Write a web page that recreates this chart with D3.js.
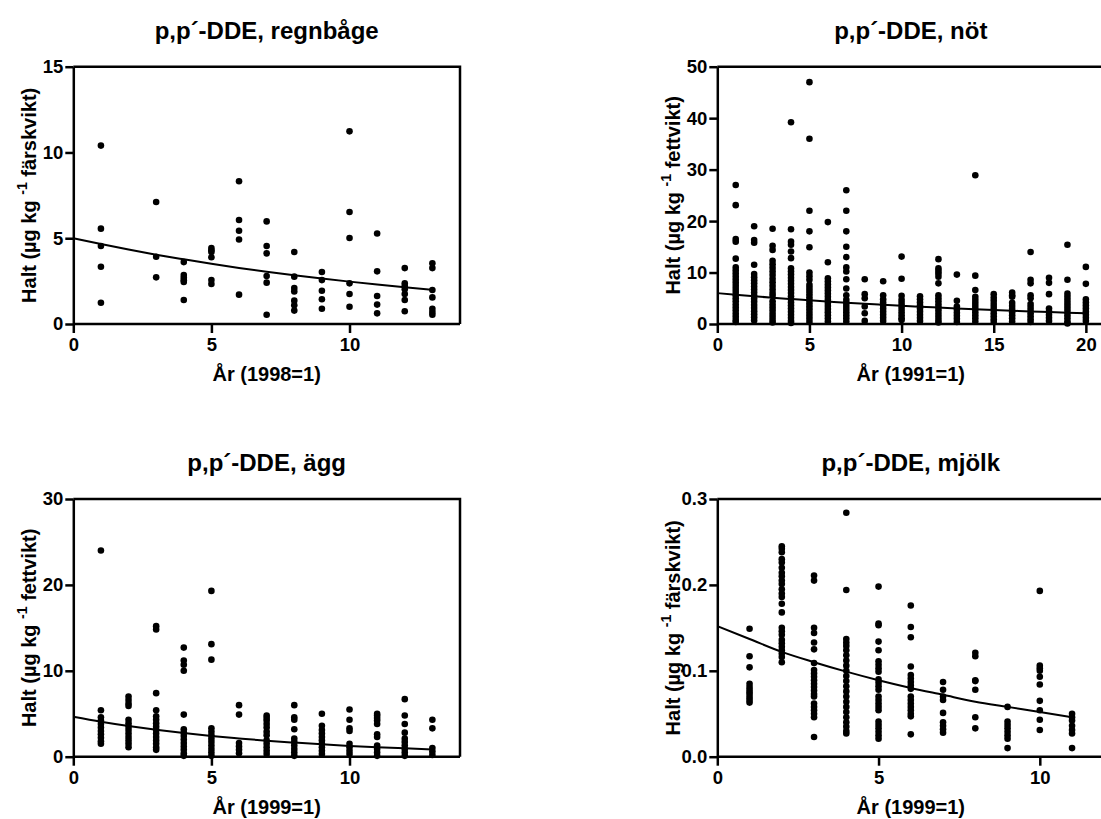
<!DOCTYPE html>
<html>
<head>
<meta charset="utf-8">
<script src="https://cdn.jsdelivr.net/npm/d3@7/dist/d3.min.js"></script>
<style>
  html, body { margin: 0; padding: 0; background: #fff; overflow: hidden; }
  svg { display: block; font-family: "Liberation Sans", Arial, sans-serif; font-weight: bold; }
</style>
</head>
<body>
<svg id="chart" width="1101" height="819"></svg>
<script>
// ---- p,p´-DDE, regnbåge (färskvikt) ----
const regnbageYears = [1, 3, 4, 5, 6, 7, 8, 9, 10, 11, 12, 13];
const regnbageValues = [
  [10.4, 5.56, 4.55, 3.34, 1.24],
  [7.11, 3.92, 2.72],
  [3.61, 2.85, 2.7, 2.55, 2.45, 1.4],
  [4.43, 4.3, 4.2, 3.89, 2.56, 2.33],
  [8.32, 6.06, 5.44, 4.93, 1.71],
  [5.98, 4.55, 4.12, 2.8, 2.41, 0.54],
  [4.2, 2.76, 2.1, 1.9, 1.36, 1.09, 0.78],
  [3.03, 2.56, 1.94, 1.44, 0.89],
  [11.23, 6.53, 5.01, 2.37, 1.75, 1.01],
  [5.28, 3.07, 1.63, 1.13, 0.62],
  [3.26, 2.37, 2.21, 2.02, 1.75, 1.4, 0.74],
  [3.54, 3.26, 1.98, 1.55, 0.89, 0.7, 0.54]
];
const regnbageFit = [5.0, 4.66, 4.34, 4.04, 3.77, 3.51, 3.27, 3.05, 2.84, 2.65, 2.47, 2.3, 2.14, 2.0];

// ---- p,p´-DDE, nöt (fettvikt) ----
const notYears = [1, 2, 3, 4, 5, 6, 7, 8, 9, 10, 11, 12, 13, 14, 15, 16, 17, 18, 19, 20];
const notValues = [
  [27.0, 23.1, 16.5, 16.0, 12.7, 11.0, 10.4, 9.8, 9.2, 8.6, 8.0, 7.4, 6.8, 6.2, 5.6, 5.0, 4.4, 3.8, 3.2, 2.6, 2.0, 1.4, 0.8, 0.4],
  [19.0, 16.3, 15.8, 11.5, 9.7, 9.1, 8.5, 7.9, 7.3, 6.7, 6.1, 5.5, 4.9, 4.3, 3.7, 3.1, 2.5, 1.9, 1.3, 0.7],
  [18.5, 15.2, 14.4, 12.3, 11.6, 10.9, 10.2, 9.5, 8.8, 8.1, 7.4, 6.7, 6.0, 5.5, 4.4, 3.8, 3.2, 2.6, 2.0, 1.4, 0.8, 0.3],
  [39.2, 18.4, 16.0, 15.4, 14.1, 12.8, 10.8, 10.2, 9.6, 9.0, 8.4, 7.8, 7.2, 6.6, 6.0, 5.4, 4.8, 4.2, 3.6, 3.0, 2.4, 1.8, 1.2, 0.6, 0.2],
  [47.0, 36.0, 22.0, 18.0, 14.9, 10.0, 9.3, 8.6, 7.6, 7.0, 6.4, 5.8, 5.2, 4.6, 4.0, 3.4, 2.8, 2.2, 1.6, 1.0, 0.4],
  [19.8, 12.0, 8.9, 8.3, 7.7, 7.1, 6.5, 5.9, 5.3, 4.7, 4.1, 3.5, 2.9, 2.3, 1.7, 1.1, 0.5],
  [26.0, 22.0, 18.0, 15.0, 13.0, 11.0, 10.2, 8.7, 6.9, 5.6, 4.7, 4.1, 3.5, 2.9, 2.3, 1.7, 1.1, 0.5],
  [8.7, 5.8, 5.0, 3.4, 2.1, 0.6],
  [8.3, 5.6, 4.8, 4.2, 3.6, 3.0, 2.4, 1.8, 1.2, 0.6],
  [13.1, 8.8, 5.5, 4.7, 4.1, 3.5, 2.9, 2.3, 1.7, 1.1, 0.8],
  [5.4, 4.8, 4.2, 3.6, 3.0, 2.4, 1.8, 1.2, 0.6],
  [12.6, 10.8, 10.3, 9.8, 9.2, 7.9, 5.6, 5.0, 4.4, 3.8, 3.2, 2.6, 2.0, 1.4, 0.8, 0.3],
  [9.6, 4.5, 3.4, 2.8, 2.2, 1.6, 1.0, 0.4],
  [28.9, 9.4, 6.6, 5.3, 4.7, 4.1, 3.5, 2.9, 2.3, 1.7, 1.1, 0.5],
  [5.8, 5.1, 4.5, 3.9, 3.3, 2.7, 2.1, 1.5, 0.9, 0.4],
  [6.1, 5.6, 5.3, 4.1, 3.5, 2.9, 2.3, 1.7, 1.1, 0.5],
  [14.0, 8.6, 7.9, 5.6, 5.0, 3.9, 3.3, 2.7, 2.1, 1.5, 0.9, 0.4],
  [9.0, 8.0, 5.8, 3.0, 2.4, 1.8, 1.2, 0.6],
  [15.4, 8.6, 5.9, 5.3, 4.7, 4.1, 3.5, 2.9, 2.3, 1.7, 1.1, 0.5, 0.1],
  [11.1, 7.8, 4.8, 4.2, 3.6, 3.0, 2.4, 1.8, 1.2, 0.6]
];
const notFit = [6.0, 5.69, 5.39, 5.11, 4.85, 4.6, 4.37, 4.14, 3.93, 3.73, 3.54, 3.36, 3.19, 3.02, 2.87, 2.73, 2.59, 2.45, 2.33, 2.21, 2.1];

// ---- p,p´-DDE, ägg (fettvikt) ----
const aggYears = [1, 2, 3, 4, 5, 6, 7, 8, 9, 10, 11, 12, 13];
const aggValues = [
  [24.0, 5.4, 4.6, 4.2, 3.8, 3.4, 3.0, 2.6, 2.2, 1.8, 1.5],
  [7.0, 6.6, 6.2, 5.9, 4.3, 3.9, 3.5, 3.1, 2.7, 2.3, 1.9, 1.5, 1.1],
  [15.2, 14.8, 7.4, 5.4, 4.7, 4.3, 3.9, 3.5, 3.1, 2.7, 2.3, 1.9, 1.5, 1.1, 0.8],
  [12.7, 11.2, 10.7, 10.0, 4.9, 3.2, 2.8, 2.4, 2.0, 1.6, 1.2, 0.8, 0.4, 0.1],
  [19.3, 13.1, 11.3, 3.3, 2.9, 2.5, 2.1, 1.7, 1.3, 0.9, 0.5, 0.1],
  [6.0, 4.9, 1.6, 1.2, 0.8, 0.4],
  [4.8, 4.5, 4.2, 3.8, 3.4, 2.9, 2.5, 1.9, 1.5, 1.1, 0.7, 0.3],
  [6.0, 4.6, 4.3, 3.2, 2.1, 1.7, 1.3, 0.9, 0.5, 0.1],
  [5.0, 3.6, 3.1, 2.7, 2.3, 1.9, 1.5, 1.1, 0.7, 0.3],
  [5.5, 4.3, 3.3, 3.0, 1.5, 1.1, 0.7, 0.3],
  [5.0, 4.8, 4.5, 4.2, 3.8, 2.6, 2.3, 1.3, 0.9, 0.5, 0.1],
  [6.7, 4.8, 3.8, 2.8, 2.1, 1.7, 1.3, 0.9, 0.5, 0.1],
  [4.3, 3.3, 1.0, 0.6, 0.2]
];
const aggFit = [4.65, 4.08, 3.58, 3.14, 2.76, 2.42, 2.13, 1.86, 1.64, 1.44, 1.26, 1.11, 0.97, 0.85];

// ---- p,p´-DDE, mjölk (färskvikt) ----
const mjolkYears = [1, 2, 3, 4, 5, 6, 7, 8, 9, 10, 11];
const mjolkValues = [
  [0.149, 0.117, 0.104, 0.085, 0.081, 0.078, 0.075, 0.072, 0.069, 0.066, 0.063],
  [0.245, 0.242, 0.238, 0.230, 0.226, 0.220, 0.214, 0.210, 0.205, 0.201, 0.195, 0.190, 0.186, 0.178, 0.168, 0.150, 0.146, 0.142, 0.136, 0.132, 0.128, 0.124, 0.120, 0.116, 0.110],
  [0.211, 0.205, 0.150, 0.144, 0.133, 0.125, 0.109, 0.101, 0.097, 0.093, 0.089, 0.085, 0.081, 0.077, 0.073, 0.070, 0.062, 0.058, 0.054, 0.050, 0.046, 0.023],
  [0.284, 0.194, 0.137, 0.133, 0.129, 0.124, 0.118, 0.112, 0.106, 0.100, 0.094, 0.088, 0.082, 0.076, 0.070, 0.064, 0.058, 0.052, 0.046, 0.040, 0.035, 0.030, 0.027],
  [0.198, 0.155, 0.153, 0.134, 0.124, 0.111, 0.107, 0.103, 0.099, 0.090, 0.086, 0.082, 0.078, 0.070, 0.066, 0.062, 0.058, 0.054, 0.041, 0.037, 0.033, 0.029, 0.025, 0.021],
  [0.176, 0.151, 0.139, 0.105, 0.095, 0.091, 0.087, 0.083, 0.079, 0.070, 0.066, 0.062, 0.058, 0.054, 0.050, 0.047, 0.026],
  [0.087, 0.078, 0.070, 0.066, 0.051, 0.040, 0.036, 0.032, 0.028],
  [0.121, 0.117, 0.089, 0.088, 0.078, 0.046, 0.033],
  [0.058, 0.041, 0.037, 0.033, 0.029, 0.025, 0.021, 0.010],
  [0.193, 0.106, 0.103, 0.100, 0.093, 0.084, 0.065, 0.054, 0.043, 0.031],
  [0.050, 0.046, 0.042, 0.036, 0.031, 0.027, 0.010]
];
const mjolkFit = [0.152, 0.137, 0.122, 0.110, 0.099, 0.089, 0.080, 0.072, 0.064, 0.058, 0.052, 0.046];

// Tick labels
const xTicksShort = [0, 5, 10];
const xTicksLong = [0, 5, 10, 15, 20];
const yTicksRegnbage = [0, 5, 10, 15];
const yTicksNot = [0, 10, 20, 30, 40, 50];
const yTicksAgg = [0, 10, 20, 30];
const yTicksMjolk = [0, 0.1, 0.2, 0.3];

const panels = [
  { title: "p,p´-DDE, regnbåge", xLabel: "År (1998=1)", unit: "färskvikt",
    years: regnbageYears, values: regnbageValues, fit: regnbageFit,
    xMax: 14, yMax: 15, xTicks: xTicksShort, yTicks: yTicksRegnbage, yFmt: d3.format("d"),
    left: 73.3, right: 460, top: 66.7, bottom: 324 },
  { title: "p,p´-DDE, nöt", xLabel: "År (1991=1)", unit: "fettvikt",
    years: notYears, values: notValues, fit: notFit,
    xMax: 21, yMax: 50, xTicks: xTicksLong, yTicks: yTicksNot, yFmt: d3.format("d"),
    left: 717.3, right: 1104.3, top: 66.7, bottom: 324 },
  { title: "p,p´-DDE, ägg", xLabel: "År (1999=1)", unit: "fettvikt",
    years: aggYears, values: aggValues, fit: aggFit,
    xMax: 14, yMax: 30, xTicks: xTicksShort, yTicks: yTicksAgg, yFmt: d3.format("d"),
    left: 73.3, right: 460, top: 499, bottom: 756.7 },
  { title: "p,p´-DDE, mjölk", xLabel: "År (1999=1)", unit: "färskvikt",
    years: mjolkYears, values: mjolkValues, fit: mjolkFit,
    xMax: 12, yMax: 0.3, xTicks: xTicksShort, yTicks: yTicksMjolk, yFmt: d3.format(".1f"),
    left: 717.3, right: 1104.3, top: 499, bottom: 756.7 }
];

const svg = d3.select("#chart");

panels.forEach(p => {
  const g = svg.append("g");
  const x = d3.scaleLinear().domain([0, p.xMax]).range([p.left, p.right]);
  const y = d3.scaleLinear().domain([0, p.yMax]).range([p.bottom, p.top]);

  // Scatter points
  const pts = [];
  p.years.forEach((yr, i) => p.values[i].forEach(v => pts.push([yr, v])));
  g.append("g").selectAll("circle").data(pts).join("circle")
    .attr("cx", d => x(d[0])).attr("cy", d => y(d[1]))
    .attr("r", 3.3).attr("fill", "#000");

  // Fitted trend curve
  const line = d3.line().x((d, i) => x(i)).y(d => y(d)).curve(d3.curveMonotoneX);
  g.append("path").datum(p.fit).attr("d", line)
    .attr("fill", "none").attr("stroke", "#000").attr("stroke-width", 2);

  // Frame: top and right edges
  g.append("path")
    .attr("d", `M${p.left},${p.top}H${p.right}V${p.bottom}`)
    .attr("fill", "none").attr("stroke", "#000").attr("stroke-width", 2.5);

  // Axes
  const xAxis = g.append("g").attr("transform", `translate(0,${p.bottom})`)
    .call(d3.axisBottom(x).tickValues(p.xTicks).tickSize(9).tickSizeOuter(0).tickPadding(5).tickFormat(d3.format("d")));
  const yAxis = g.append("g").attr("transform", `translate(${p.left},0)`)
    .call(d3.axisLeft(y).tickValues(p.yTicks).tickSize(8).tickSizeOuter(0).tickPadding(2).tickFormat(p.yFmt));
  [xAxis, yAxis].forEach(a => {
    a.select(".domain").attr("stroke", "#000").attr("stroke-width", 2.5);
    a.selectAll(".tick line").attr("stroke", "#000").attr("stroke-width", 2.5);
    a.selectAll(".tick text").attr("fill", "#000")
      .style("font-family", "'Liberation Sans', Arial, sans-serif")
      .style("font-weight", "bold").style("font-size", "18.5px");
  });
  // x-axis starts at the y-axis line
  xAxis.select(".domain").attr("d", `M${p.left},0H${p.right}`);

  const cx = (p.left + p.right) / 2;
  const cy = (p.top + p.bottom) / 2;

  // Title
  g.append("text").attr("x", cx).attr("y", p.top - 28)
    .attr("text-anchor", "middle").style("font-size", "24px").text(p.title);

  // X-axis label
  g.append("text").attr("x", cx).attr("y", p.bottom + 57)
    .attr("text-anchor", "middle").style("font-size", "20px").text(p.xLabel);

  // Y-axis label with superscript
  const yl = g.append("text")
    .attr("transform", `translate(${p.left - 37},${cy}) rotate(-90)`)
    .attr("text-anchor", "middle").style("font-size", "20px");
  yl.append("tspan").text("Halt (µg kg ");
  yl.append("tspan").attr("dy", -9).style("font-size", "14px").text("-1");
  yl.append("tspan").attr("dy", 9).text(" " + p.unit + ")");
});
</script>
</body>
</html>
